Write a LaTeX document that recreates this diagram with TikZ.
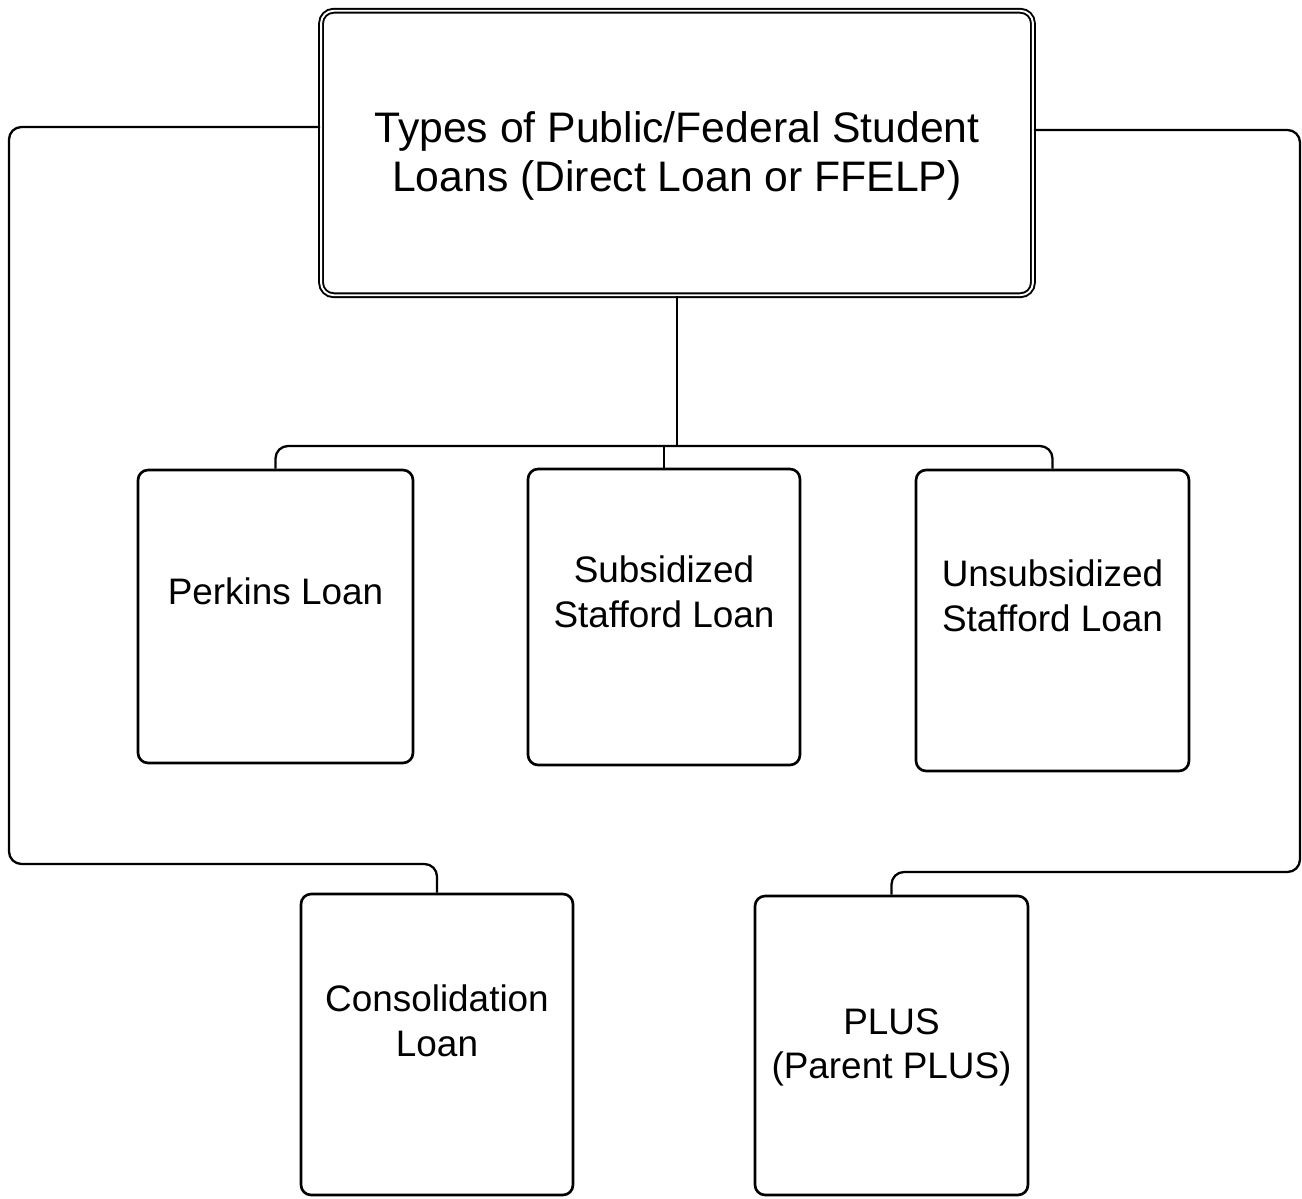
\documentclass[tikz,border=0pt]{standalone}
\usepackage{fontspec}
\setmainfont{Liberation Sans}
\usetikzlibrary{calc}

\begin{document}
\begin{tikzpicture}[x=0.02cm,y=-0.02cm]
\tikzset{loanbox/.style={draw,rectangle,rounded corners=2mm,line width=1.5pt},
  conn/.style={line width=1.3pt,rounded corners=2.5mm},
  lbl/.style={align=center,font=\fontsize{21}{25.5}\selectfont}}
\useasboundingbox (0,0) rectangle (1302,1199);

\draw node [draw,rectangle,minimum width=14.24cm,minimum height=5.69cm,rounded corners=2.5mm,double,line width=1.1pt,double distance=1.1pt](types) at (677,153){};
\draw node [align=center,font=\fontsize{24.3}{28.4}\selectfont] at ($ (types)+(0,3) $){Types of Public/Federal Student\\Loans (Direct Loan or FFELP)};

\draw node [loanbox,minimum width=5.5cm,minimum height=5.86cm](perkins) at (275.5,616.5){};
\draw node [loanbox,minimum width=5.44cm,minimum height=5.92cm](subsidized) at (664,617){};
\draw node [loanbox,minimum width=5.46cm,minimum height=6.02cm](unsubsidized) at (1052.5,620.5){};
\draw node [loanbox,minimum width=5.44cm,minimum height=6.02cm](consolidation) at (437,1044.5){};
\draw node [loanbox,minimum width=5.46cm,minimum height=5.98cm](plus) at (891.5,1045.5){};

\draw node [lbl] at ($ (perkins)+(0,-25) $){Perkins Loan};
\draw node [lbl] at ($ (subsidized)+(0,-25) $){Subsidized\\Stafford Loan};
\draw node [lbl] at ($ (unsubsidized)+(0,-25) $){Unsubsidized\\Stafford Loan};
\draw node [lbl] at ($ (consolidation)+(0,-24) $){Consolidation\\Loan};
\draw node [lbl] at ($ (plus)+(0,2) $){PLUS\\(Parent PLUS)};

% tree below the title box
\coordinate (branch) at (677,446);
\draw[conn] (perkins.north) |- (branch) -| (unsubsidized.north);
\draw[conn] (types.south) -- (branch);
\draw[conn] (subsidized.north) -- (subsidized.north |- branch);

% outer loops
\draw[conn] ($ (types.west)+(0,-26) $) -| (9,864) -| (consolidation.north);
\draw[conn] ($ (types.east)+(0,-23) $) -| (1300,872) -| (plus.north);

\end{tikzpicture}
\end{document}
